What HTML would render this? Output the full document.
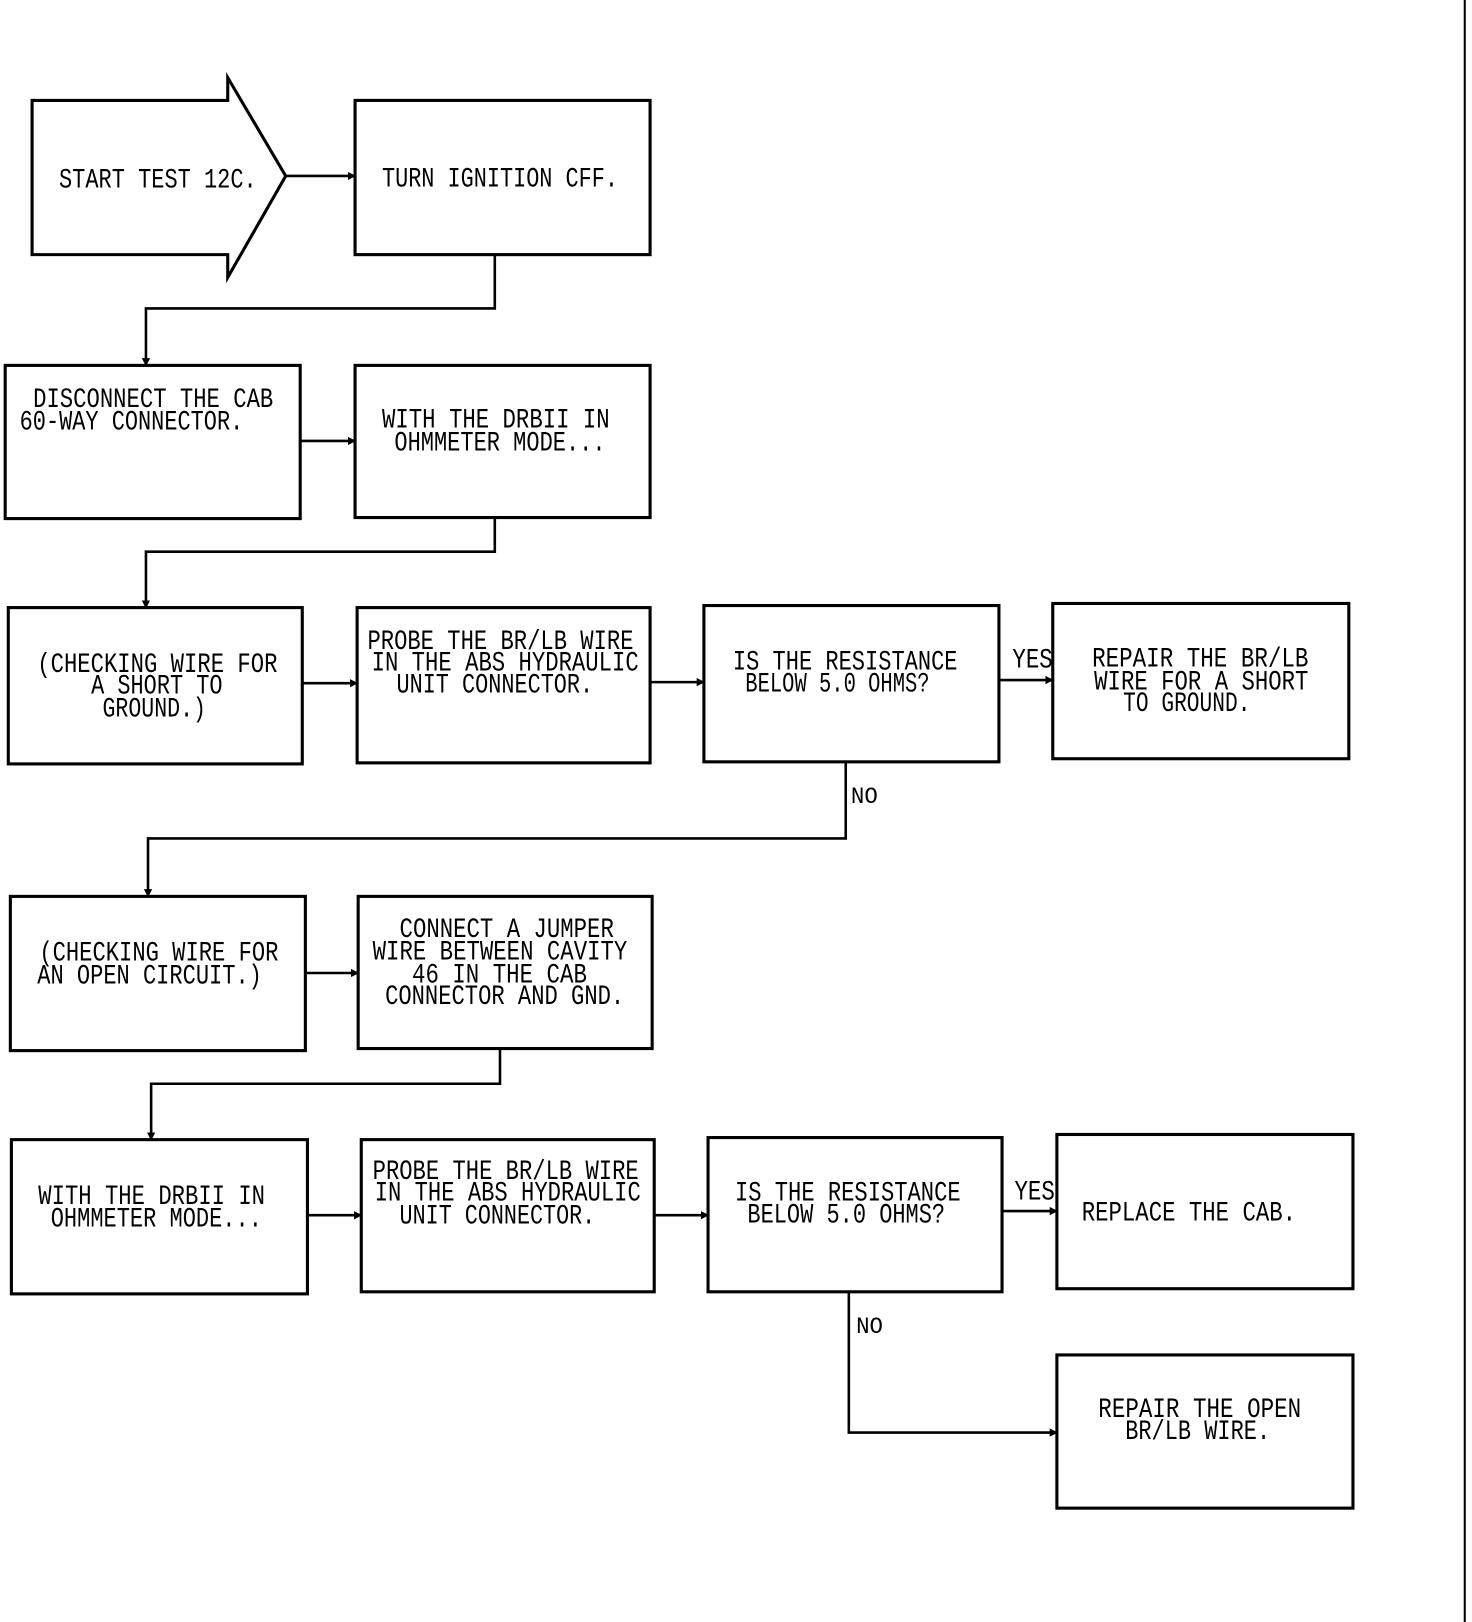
<!DOCTYPE html>
<html><head><meta charset="utf-8"><style>
html,body{margin:0;padding:0;background:#fff;}
svg{display:block;}
text{font-family:"Liberation Mono",monospace;font-size:27px;fill:#000;}
</style></head><body>
<svg width="1472" height="1622" viewBox="0 0 1422 1567" preserveAspectRatio="none" xmlns="http://www.w3.org/2000/svg">
<defs><marker id="a" markerWidth="8" markerHeight="8" refX="7" refY="4" orient="auto" markerUnits="userSpaceOnUse"><path d="M0,0 L8,4 L0,8 Z" fill="#000"/></marker></defs>
<g fill="none" stroke="#000" stroke-width="3">
<line x1="1415" y1="0" x2="1415" y2="1567" stroke-width="2"/>
<path d="M31,97 L220,97 L220,75 L276,170 L220,268 L220,246 L31,246 Z"/>
<rect x="343" y="97" width="285" height="149"/>
<rect x="5" y="353" width="285" height="148"/>
<rect x="343" y="353" width="285" height="147"/>
<rect x="8" y="587" width="284" height="151"/>
<rect x="345" y="587" width="283" height="150"/>
<rect x="680" y="585" width="285" height="151"/>
<rect x="1017" y="583" width="286" height="150"/>
<rect x="10" y="866" width="285" height="149"/>
<rect x="346" y="866" width="284" height="147"/>
<rect x="11" y="1101" width="286" height="149"/>
<rect x="349" y="1101" width="283" height="147"/>
<rect x="684" y="1099" width="284" height="149"/>
<rect x="1021" y="1096" width="286" height="149"/>
<rect x="1021" y="1309" width="286" height="148"/>
</g>
<g fill="none" stroke="#000" stroke-width="2.5" marker-end="url(#a)">
<path d="M276,170 L343,170"/>
<path d="M478,246 L478,298 L141,298 L141,353"/>
<path d="M290,426 L343,426"/>
<path d="M478,500 L478,533 L141,533 L141,587"/>
<path d="M292,660 L345,660"/>
<path d="M628,659 L680,659"/>
<path d="M965,657 L1017,657"/>
<path d="M817,736 L817,810 L143,810 L143,866"/>
<path d="M295,940 L346,940"/>
<path d="M483,1013 L483,1047 L146,1047 L146,1101"/>
<path d="M297,1174 L349,1174"/>
<path d="M632,1174 L684,1174"/>
<path d="M968,1170 L1021,1170"/>
<path d="M820,1248 L820,1384 L1021,1384"/>
</g>
<g lengthAdjust="spacingAndGlyphs">
<text x="57" y="181" textLength="191" lengthAdjust="spacingAndGlyphs">START TEST 12C.</text>
<text x="369" y="180" textLength="228" lengthAdjust="spacingAndGlyphs">TURN IGNITION CFF.</text>
<text x="32" y="393" textLength="232" lengthAdjust="spacingAndGlyphs">DISCONNECT THE CAB</text>
<text x="19" y="415" textLength="216" lengthAdjust="spacingAndGlyphs">60-WAY CONNECTOR.</text>
<text x="369" y="413" textLength="220" lengthAdjust="spacingAndGlyphs">WITH THE DRBII IN</text>
<text x="381" y="435" textLength="204" lengthAdjust="spacingAndGlyphs">OHMMETER MODE...</text>
<text x="36" y="649" textLength="232" lengthAdjust="spacingAndGlyphs">(CHECKING WIRE FOR</text>
<text x="88" y="670" textLength="127" lengthAdjust="spacingAndGlyphs">A SHORT TO</text>
<text x="99" y="692" textLength="100" lengthAdjust="spacingAndGlyphs">GROUND.)</text>
<text x="355" y="627" textLength="257" lengthAdjust="spacingAndGlyphs">PROBE THE BR/LB WIRE</text>
<text x="359" y="648" textLength="258" lengthAdjust="spacingAndGlyphs">IN THE ABS HYDRAULIC</text>
<text x="383" y="669" textLength="190" lengthAdjust="spacingAndGlyphs">UNIT CONNECTOR.</text>
<text x="708" y="647" textLength="217" lengthAdjust="spacingAndGlyphs">IS THE RESISTANCE</text>
<text x="720" y="668" textLength="178" lengthAdjust="spacingAndGlyphs">BELOW 5.0 OHMS?</text>
<text x="978" y="645" textLength="39" lengthAdjust="spacingAndGlyphs">YES</text>
<text x="1055" y="644" textLength="209" lengthAdjust="spacingAndGlyphs">REPAIR THE BR/LB</text>
<text x="1057" y="666" textLength="207" lengthAdjust="spacingAndGlyphs">WIRE FOR A SHORT</text>
<text x="1085" y="687" textLength="123" lengthAdjust="spacingAndGlyphs">TO GROUND.</text>
<text x="822" y="776" textLength="26" lengthAdjust="spacingAndGlyphs" style="font-size:22px">NO</text>
<text x="38" y="928" textLength="231" lengthAdjust="spacingAndGlyphs">(CHECKING WIRE FOR</text>
<text x="36" y="950" textLength="217" lengthAdjust="spacingAndGlyphs">AN OPEN CIRCUIT.)</text>
<text x="386" y="905" textLength="207" lengthAdjust="spacingAndGlyphs">CONNECT A JUMPER</text>
<text x="360" y="927" textLength="246" lengthAdjust="spacingAndGlyphs">WIRE BETWEEN CAVITY</text>
<text x="398" y="949" textLength="169" lengthAdjust="spacingAndGlyphs">46 IN THE CAB</text>
<text x="372" y="970" textLength="231" lengthAdjust="spacingAndGlyphs">CONNECTOR AND GND.</text>
<text x="37" y="1163" textLength="219" lengthAdjust="spacingAndGlyphs">WITH THE DRBII IN</text>
<text x="49" y="1185" textLength="204" lengthAdjust="spacingAndGlyphs">OHMMETER MODE...</text>
<text x="360" y="1139" textLength="257" lengthAdjust="spacingAndGlyphs">PROBE THE BR/LB WIRE</text>
<text x="362" y="1160" textLength="257" lengthAdjust="spacingAndGlyphs">IN THE ABS HYDRAULIC</text>
<text x="386" y="1182" textLength="189" lengthAdjust="spacingAndGlyphs">UNIT CONNECTOR.</text>
<text x="710" y="1160" textLength="218" lengthAdjust="spacingAndGlyphs">IS THE RESISTANCE</text>
<text x="722" y="1181" textLength="191" lengthAdjust="spacingAndGlyphs">BELOW 5.0 OHMS?</text>
<text x="980" y="1159" textLength="39" lengthAdjust="spacingAndGlyphs">YES</text>
<text x="1045" y="1179" textLength="207" lengthAdjust="spacingAndGlyphs">REPLACE THE CAB.</text>
<text x="827" y="1288" textLength="26" lengthAdjust="spacingAndGlyphs" style="font-size:22px">NO</text>
<text x="1061" y="1369" textLength="196" lengthAdjust="spacingAndGlyphs">REPAIR THE OPEN</text>
<text x="1087" y="1390" textLength="140" lengthAdjust="spacingAndGlyphs">BR/LB WIRE.</text>
</g>
</svg>
</body></html>
